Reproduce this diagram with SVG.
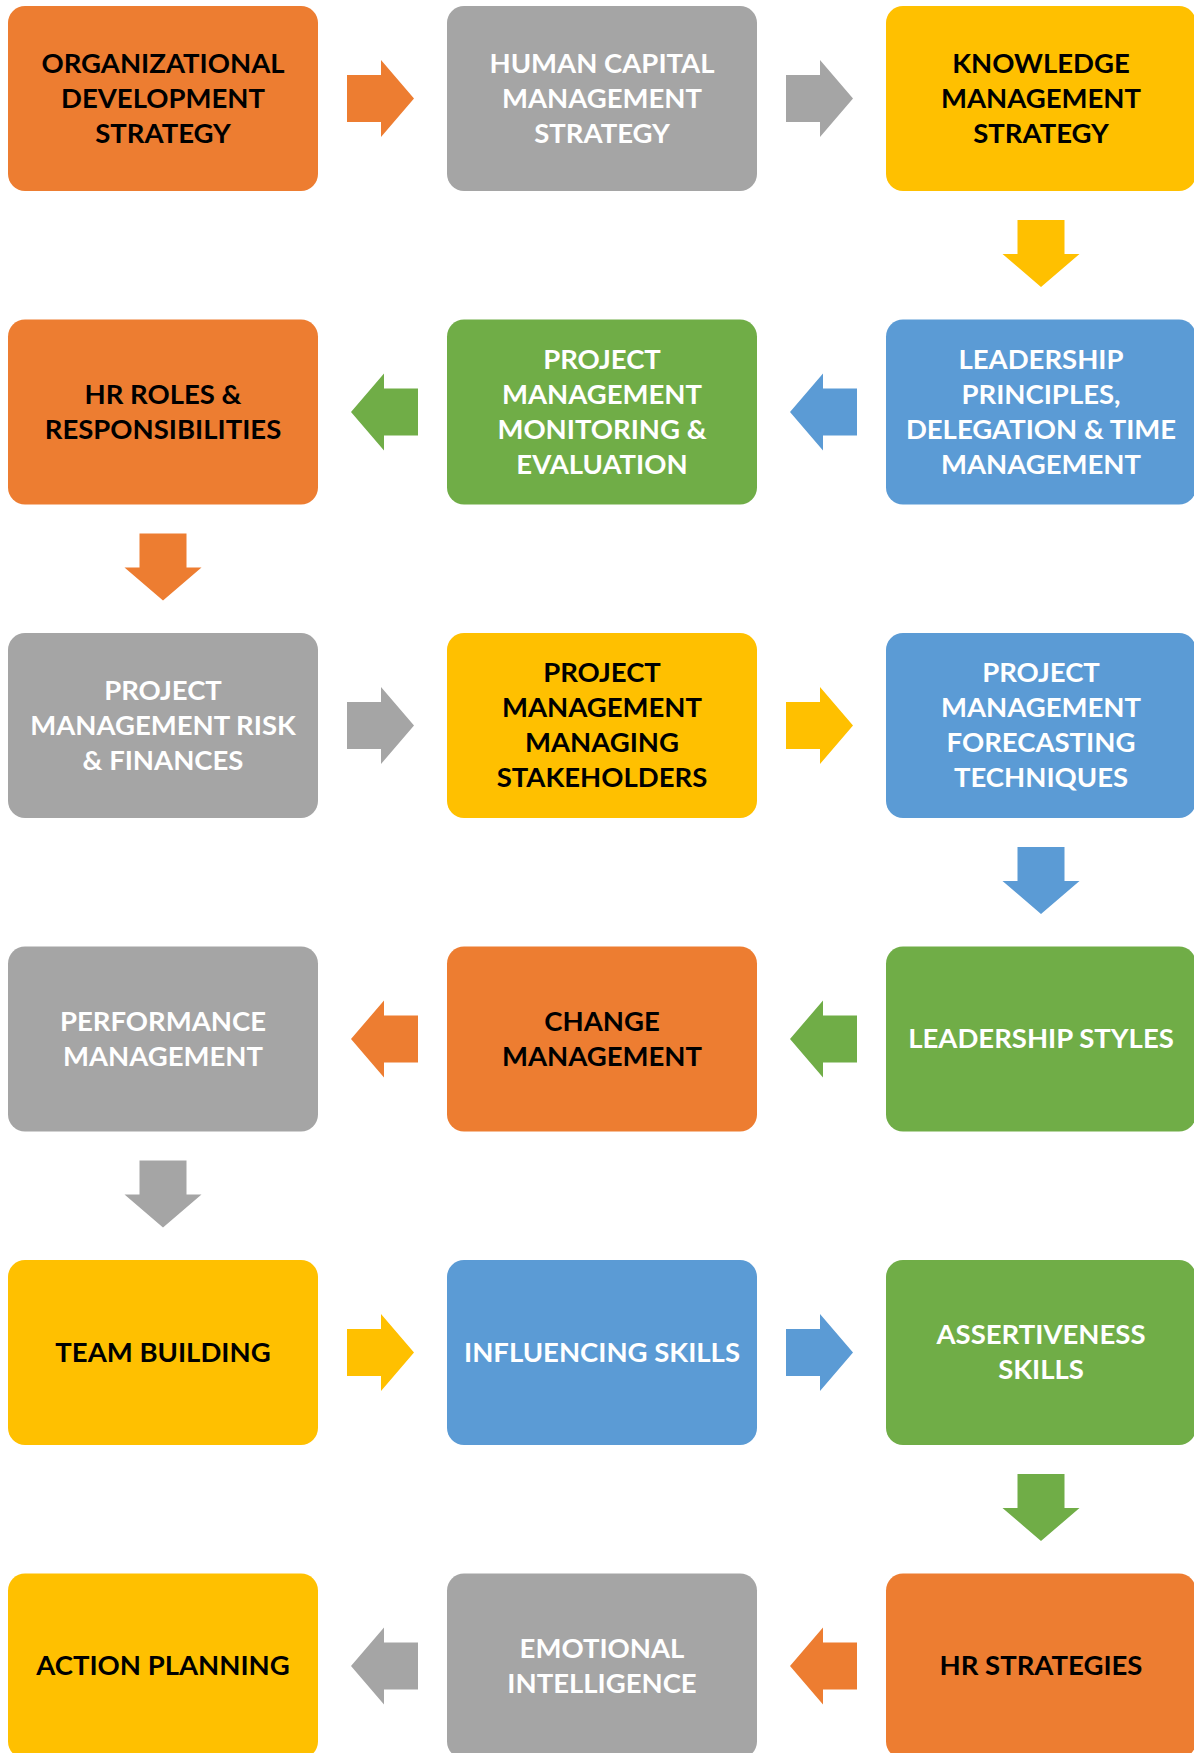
<svg xmlns="http://www.w3.org/2000/svg" width="1194" height="1753" viewBox="0 0 1194 1753">
  <style>
    .box { stroke: none; }
    .orange { fill: #ED7D31; }
    .gray { fill: #A5A5A5; }
    .yellow { fill: #FFC000; }
    .blue { fill: #5B9BD5; }
    .green { fill: #70AD47; }
    text { font-family: Lato, "Open Sans", "Liberation Sans", sans-serif; font-weight: bold; font-size: 27.5px; text-anchor: middle; }
    .dark { fill: #000000; }
    .light { fill: #FFFFFF; }
  </style>
  <defs>
    <!-- block arrows drawn at the origin, centred on their axis -->
    <polygon id="arrowRight" points="0,-23.5 34,-23.5 34,-38.5 67,0 34,38.5 34,23.5 0,23.5"/>
    <polygon id="arrowLeft" points="0,0 33,-38.5 33,-23.5 67,-23.5 67,23.5 33,23.5 33,38.5"/>
    <polygon id="arrowDown" points="-23.5,0 23.5,0 23.5,34 38.5,34 0,67 -38.5,34 -23.5,34"/>
  </defs>
  <rect width="1194" height="1753" fill="#FFFFFF"/>

  <g id="connectors">
    <!-- row 1: left to right -->
    <use href="#arrowRight" x="347" y="98.5" class="orange"/>
    <use href="#arrowRight" x="786" y="98.5" class="gray"/>
    <use href="#arrowDown" x="1041" y="220" class="yellow"/>
    <!-- row 2: right to left -->
    <use href="#arrowLeft" x="790" y="412" class="blue"/>
    <use href="#arrowLeft" x="351" y="412" class="green"/>
    <use href="#arrowDown" x="163" y="533.5" class="orange"/>
    <!-- row 3: left to right -->
    <use href="#arrowRight" x="347" y="725.5" class="gray"/>
    <use href="#arrowRight" x="786" y="725.5" class="yellow"/>
    <use href="#arrowDown" x="1041" y="847" class="blue"/>
    <!-- row 4: right to left -->
    <use href="#arrowLeft" x="790" y="1039" class="green"/>
    <use href="#arrowLeft" x="351" y="1039" class="orange"/>
    <use href="#arrowDown" x="163" y="1160.5" class="gray"/>
    <!-- row 5: left to right -->
    <use href="#arrowRight" x="347" y="1352.5" class="yellow"/>
    <use href="#arrowRight" x="786" y="1352.5" class="blue"/>
    <use href="#arrowDown" x="1041" y="1474" class="green"/>
    <!-- row 6: right to left -->
    <use href="#arrowLeft" x="790" y="1666" class="orange"/>
    <use href="#arrowLeft" x="351" y="1666" class="gray"/>
  </g>

  <!-- row 1 -->
  <g id="org-development">
    <rect class="box orange" x="8" y="6" width="310" height="185" rx="17"/>
    <text class="dark"><tspan x="163" y="72.5">ORGANIZATIONAL</tspan><tspan x="163" y="107.5">DEVELOPMENT</tspan><tspan x="163" y="142.5">STRATEGY</tspan></text>
  </g>
  <g id="human-capital">
    <rect class="box gray" x="447" y="6" width="310" height="185" rx="17"/>
    <text class="light"><tspan x="602" y="72.5">HUMAN CAPITAL</tspan><tspan x="602" y="107.5">MANAGEMENT</tspan><tspan x="602" y="142.5">STRATEGY</tspan></text>
  </g>
  <g id="knowledge-management">
    <rect class="box yellow" x="886" y="6" width="310" height="185" rx="17"/>
    <text class="dark"><tspan x="1041" y="72.5">KNOWLEDGE</tspan><tspan x="1041" y="107.5">MANAGEMENT</tspan><tspan x="1041" y="142.5">STRATEGY</tspan></text>
  </g>

  <!-- row 2 -->
  <g id="hr-roles">
    <rect class="box orange" x="8" y="319.5" width="310" height="185" rx="17"/>
    <text class="dark"><tspan x="163" y="403.5">HR ROLES &amp;</tspan><tspan x="163" y="438.5">RESPONSIBILITIES</tspan></text>
  </g>
  <g id="pm-monitoring">
    <rect class="box green" x="447" y="319.5" width="310" height="185" rx="17"/>
    <text class="light"><tspan x="602" y="368.5">PROJECT</tspan><tspan x="602" y="403.5">MANAGEMENT</tspan><tspan x="602" y="438.5">MONITORING &amp;</tspan><tspan x="602" y="473.5">EVALUATION</tspan></text>
  </g>
  <g id="leadership-principles">
    <rect class="box blue" x="886" y="319.5" width="310" height="185" rx="17"/>
    <text class="light"><tspan x="1041" y="368.5">LEADERSHIP</tspan><tspan x="1041" y="403.5">PRINCIPLES,</tspan><tspan x="1041" y="438.5">DELEGATION &amp; TIME</tspan><tspan x="1041" y="473.5">MANAGEMENT</tspan></text>
  </g>

  <!-- row 3 -->
  <g id="pm-risk">
    <rect class="box gray" x="8" y="633" width="310" height="185" rx="17"/>
    <text class="light"><tspan x="163" y="699.5">PROJECT</tspan><tspan x="163" y="734.5">MANAGEMENT RISK</tspan><tspan x="163" y="769.5">&amp; FINANCES</tspan></text>
  </g>
  <g id="pm-stakeholders">
    <rect class="box yellow" x="447" y="633" width="310" height="185" rx="17"/>
    <text class="dark"><tspan x="602" y="682">PROJECT</tspan><tspan x="602" y="717">MANAGEMENT</tspan><tspan x="602" y="752">MANAGING</tspan><tspan x="602" y="787">STAKEHOLDERS</tspan></text>
  </g>
  <g id="pm-forecasting">
    <rect class="box blue" x="886" y="633" width="310" height="185" rx="17"/>
    <text class="light"><tspan x="1041" y="682">PROJECT</tspan><tspan x="1041" y="717">MANAGEMENT</tspan><tspan x="1041" y="752">FORECASTING</tspan><tspan x="1041" y="787">TECHNIQUES</tspan></text>
  </g>

  <!-- row 4 -->
  <g id="performance-management">
    <rect class="box gray" x="8" y="946.5" width="310" height="185" rx="17"/>
    <text class="light"><tspan x="163" y="1030.5">PERFORMANCE</tspan><tspan x="163" y="1065.5">MANAGEMENT</tspan></text>
  </g>
  <g id="change-management">
    <rect class="box orange" x="447" y="946.5" width="310" height="185" rx="17"/>
    <text class="dark"><tspan x="602" y="1030.5">CHANGE</tspan><tspan x="602" y="1065.5">MANAGEMENT</tspan></text>
  </g>
  <g id="leadership-styles">
    <rect class="box green" x="886" y="946.5" width="310" height="185" rx="17"/>
    <text class="light" x="1041" y="1048">LEADERSHIP STYLES</text>
  </g>

  <!-- row 5 -->
  <g id="team-building">
    <rect class="box yellow" x="8" y="1260" width="310" height="185" rx="17"/>
    <text class="dark" x="163" y="1361.5">TEAM BUILDING</text>
  </g>
  <g id="influencing-skills">
    <rect class="box blue" x="447" y="1260" width="310" height="185" rx="17"/>
    <text class="light" x="602" y="1361.5">INFLUENCING SKILLS</text>
  </g>
  <g id="assertiveness-skills">
    <rect class="box green" x="886" y="1260" width="310" height="185" rx="17"/>
    <text class="light"><tspan x="1041" y="1344">ASSERTIVENESS</tspan><tspan x="1041" y="1379">SKILLS</tspan></text>
  </g>

  <!-- row 6 -->
  <g id="action-planning">
    <rect class="box yellow" x="8" y="1573.5" width="310" height="185" rx="17"/>
    <text class="dark" x="163" y="1675">ACTION PLANNING</text>
  </g>
  <g id="emotional-intelligence">
    <rect class="box gray" x="447" y="1573.5" width="310" height="185" rx="17"/>
    <text class="light"><tspan x="602" y="1657.5">EMOTIONAL</tspan><tspan x="602" y="1692.5">INTELLIGENCE</tspan></text>
  </g>
  <g id="hr-strategies">
    <rect class="box orange" x="886" y="1573.5" width="310" height="185" rx="17"/>
    <text class="dark" x="1041" y="1675">HR STRATEGIES</text>
  </g>
</svg>
